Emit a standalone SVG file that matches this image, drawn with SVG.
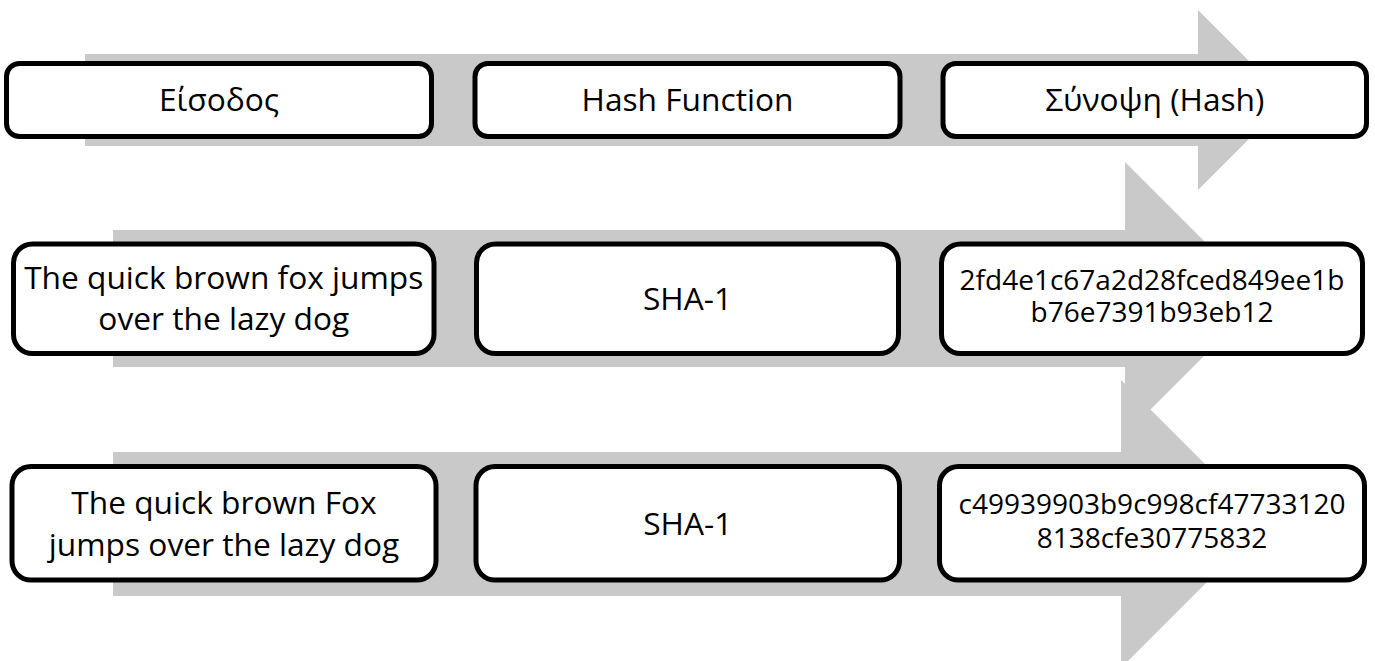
<svg xmlns="http://www.w3.org/2000/svg" width="1375" height="661" viewBox="0 0 1375 661">
  <style>
    .band { fill: #c9c9c9; stroke: none; }
    .box { fill: #ffffff; stroke: #000000; stroke-width: 5; }
    .lbl { font-family: "Open Sans", "Noto Sans", "DejaVu Sans", sans-serif; font-size: 31.7px; fill: #000000; text-anchor: middle; }
    .hash { font-size: 28px; }
  </style>
  <rect width="1375" height="661" fill="#ffffff"/>

  <!-- broad grey process arrows behind each row -->
  <g id="connectors">
    <polygon class="band" points="85,54 1198,54 1198,10 1288,100 1198,190 1198,146 85,146"/>
    <polygon class="band" points="113,230 1125,230 1125,162 1261.5,298.5 1125,435 1125,367 113,367"/>
    <polygon class="band" points="113,452 1121,452 1121,380 1265,524 1121,668 1121,596 113,596"/>
  </g>

  <!-- row 1: headings -->
  <g id="head-input">
    <rect class="box" x="6.5" y="63.5" width="425" height="73" rx="13" ry="13"/>
    <text class="lbl" x="219" y="111">Είσοδος</text>
  </g>
  <g id="head-function">
    <rect class="box" x="475" y="63.5" width="425" height="73" rx="13" ry="13"/>
    <text class="lbl" x="687.5" y="111">Hash Function</text>
  </g>
  <g id="head-digest">
    <rect class="box" x="943" y="63.5" width="423.5" height="73" rx="13" ry="13"/>
    <text class="lbl" x="1154.75" y="111">Σύνοψη (Hash)</text>
  </g>

  <!-- row 2 -->
  <g id="input-1">
    <rect class="box" x="13.5" y="244" width="420.5" height="109.5" rx="19" ry="19"/>
    <text class="lbl" x="223.75" y="288.5">The quick brown fox jumps</text>
    <text class="lbl" x="223.75" y="330">over the lazy dog</text>
  </g>
  <g id="function-1">
    <rect class="box" x="476.5" y="244" width="422" height="109.5" rx="19" ry="19"/>
    <text class="lbl" x="687.5" y="310">SHA-1</text>
  </g>
  <g id="digest-1">
    <rect class="box" x="941.5" y="244" width="421" height="109.5" rx="19" ry="19"/>
    <text class="lbl hash" x="1152" y="290">2fd4e1c67a2d28fced849ee1b</text>
    <text class="lbl hash" x="1152" y="321.7">b76e7391b93eb12</text>
  </g>

  <!-- row 3 -->
  <g id="input-2">
    <rect class="box" x="12" y="466.5" width="424" height="113.5" rx="19" ry="19"/>
    <text class="lbl" x="224" y="514">The quick brown Fox</text>
    <text class="lbl" x="224" y="555.5">jumps over the lazy dog</text>
  </g>
  <g id="function-2">
    <rect class="box" x="476" y="466.5" width="423.5" height="113.5" rx="19" ry="19"/>
    <text class="lbl" x="687.75" y="534.5">SHA-1</text>
  </g>
  <g id="digest-2">
    <rect class="box" x="939.5" y="466.5" width="425" height="113.5" rx="19" ry="19"/>
    <text class="lbl hash" x="1152" y="514.3">c49939903b9c998cf47733120</text>
    <text class="lbl hash" x="1152" y="548">8138cfe30775832</text>
  </g>
</svg>
